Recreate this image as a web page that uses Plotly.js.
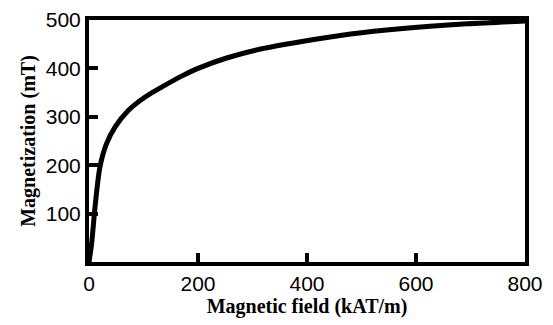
<!DOCTYPE html>
<html>
<head>
<meta charset="utf-8">
<script src="https://cdn.plot.ly/plotly-3.0.1.min.js"></script>
<style>html,body{margin:0;padding:0;background:#fff;}#chart{width:553px;height:325px;}</style>
</head>
<body>
<div id="chart"></div>
<script>
const fieldKATm = [0, 5, 11, 20, 32, 48, 72, 103, 139, 170, 200, 254, 315, 388, 480, 571, 694, 800];
const magnetizationMT = [0, 40, 113, 196, 244, 279, 313, 341, 365, 384, 400, 422, 440, 455, 471, 482, 492, 498];
const xTicks = [0, 200, 400, 600, 800];
const yTicks = [100, 200, 300, 400, 500];

const trace = {
  x: fieldKATm, y: magnetizationMT, mode: 'lines', type: 'scatter',
  line: {color: '#000', width: 5, shape: 'spline', smoothing: 0.8},
  cliponaxis: false, hoverinfo: 'skip'
};
const tickFont = {family: 'Liberation Sans, Arial, sans-serif', size: 21, color: '#000'};
const titleFont = {family: 'Liberation Serif, Times New Roman, serif', size: 20, color: '#000', weight: 'bold'};
const layout = {
  width: 553, height: 325,
  margin: {l: 89, r: 28, t: 20, b: 63},
  paper_bgcolor: '#fff', plot_bgcolor: '#fff',
  showlegend: false,
  xaxis: {
    range: [0, 800], tickvals: xTicks, ticktext: xTicks.map(String),
    showgrid: false, zeroline: false, showline: true, mirror: true,
    linecolor: '#000', linewidth: 4,
    ticks: 'inside', ticklen: 9, tickwidth: 4, tickcolor: '#000',
    tickfont: tickFont,
    title: {text: 'Magnetic field (kAT/m)', font: titleFont, standoff: 4}
  },
  yaxis: {
    range: [0, 500], tickvals: yTicks, ticktext: yTicks.map(String),
    showgrid: false, zeroline: false, showline: true, mirror: true,
    linecolor: '#000', linewidth: 4,
    ticks: 'inside', ticklen: 9, tickwidth: 4, tickcolor: '#000',
    tickfont: tickFont,
    title: {text: 'Magnetization (mT)', font: titleFont, standoff: 6}
  }
};
Plotly.newPlot('chart', [trace], layout, {staticPlot: true, displayModeBar: false});
</script>
</body>
</html>
